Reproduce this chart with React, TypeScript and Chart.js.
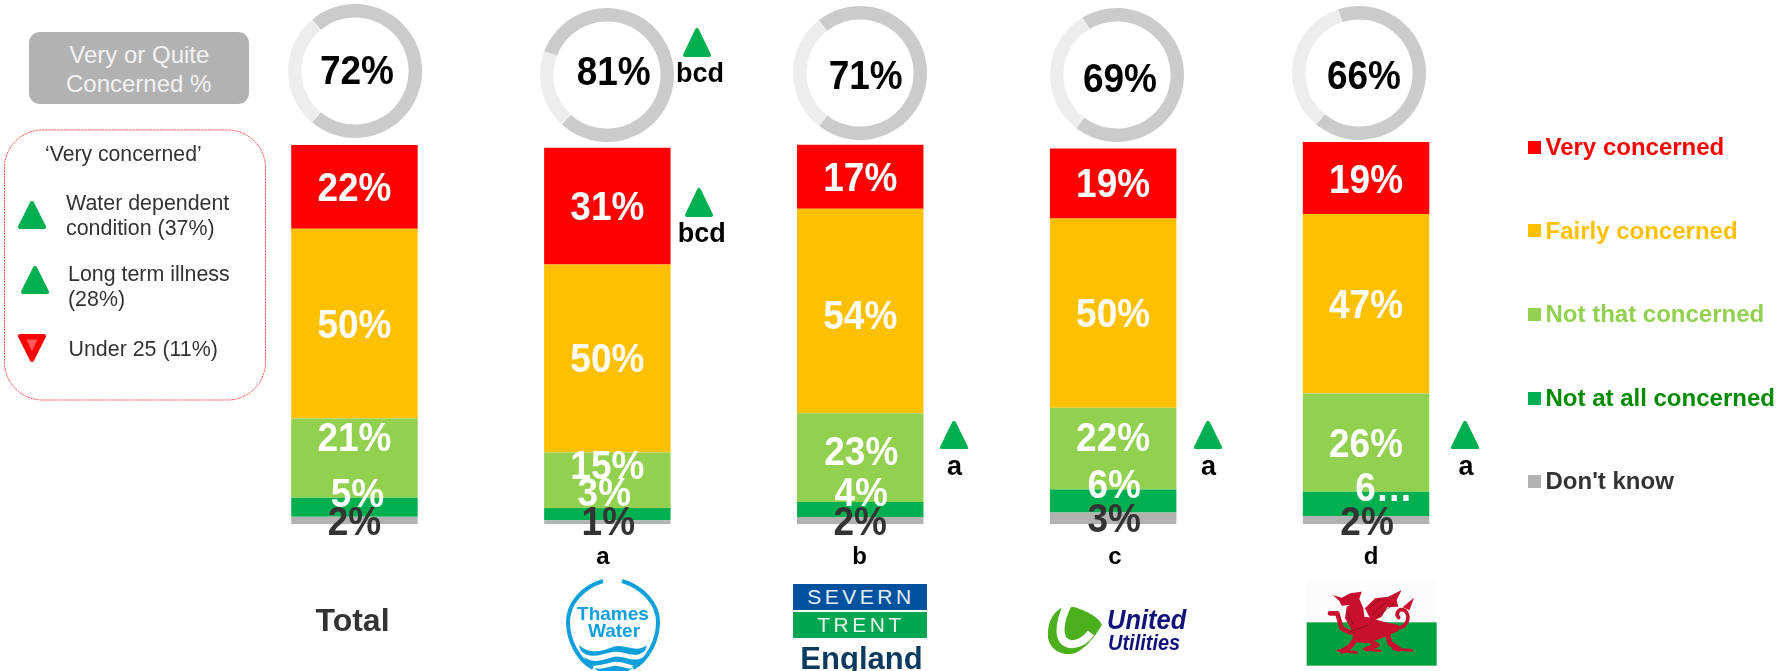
import React, { useEffect, useRef } from "react";
import { Chart, registerables } from "chart.js";

Chart.register(...registerables);

// ---------- data ----------
const categories = ["Total", "Thames Water", "Severn Trent England", "United Utilities", "Wales"];
const veryConcerned = [22.1, 30.8, 16.9, 18.5, 19.0];
const fairlyConcerned = [50.0, 49.6, 53.9, 49.9, 47.3];
const notThatConcerned = [20.9, 14.6, 23.4, 21.5, 25.9];
const notAtAllConcerned = [5.0, 3.2, 4.0, 6.1, 6.4];
const dontKnow = [2.0, 1.1, 1.9, 3.1, 2.2];
const veryOrQuite = [72, 81, 71, 69, 66];
const letters = ["", "a", "b", "c", "d"];

// ---------- styling ----------
const FONT = '"Liberation Sans", Arial, sans-serif';
const RED = "#FF0000";
const AMBER = "#FFC000";
const LIME = "#92D050";
const GREEN = "#00B050";
const GREY = "#B2B2B2";
const TEXT = "#333333";

const legendRows = [
  { name: "Very concerned", swatch: RED, text: RED },
  { name: "Fairly concerned", swatch: AMBER, text: AMBER },
  { name: "Not that concerned", swatch: LIME, text: LIME },
  { name: "Not at all concerned", swatch: GREEN, text: "#008A00" },
  { name: "Don't know", swatch: GREY, text: TEXT },
];

// label nudges from the segment centre (px), one row per series
const nudges: Record<string, [number, number][]> = {
  "Very concerned": [[0, 2], [0, 1.5], [0, 2.5], [0, 1.5], [0, 2.5]],
  "Fairly concerned": [[0, 2.5], [0, 1.5], [0, 6.5], [0, 2], [0, 2]],
  "Not that concerned": [[0, -19], [0, -13], [1, -5], [0, -10], [0, 2]],
  "Not at all concerned": [[3, -12], [-3, -20], [1, -16], [1, -15], [18, -15]],
  "Don't know": [[0, 2], [1, 1], [0, 2], [1, 2], [1, 3]],
};
const labelText: Record<string, string> = { "Not at all concerned|4": "6…" };

const ringGeometry = [
  { cx: 355, cy: 71, rotation: -39.6, tx: 357, ty: 70.5 },
  { cx: 607, cy: 75, rotation: -69.3, tx: 613.7, ty: 72 },
  { cx: 860, cy: 73, rotation: -38, tx: 865.7, ty: 75.5 },
  { cx: 1117, cy: 75, rotation: -31, tx: 1120, ty: 79 },
  { cx: 1359.4, cy: 73, rotation: -18, tx: 1364, ty: 75.5 },
];

const letterPos = [
  null,
  { x: 603, y: 556 },
  { x: 859.5, y: 556 },
  { x: 1115, y: 556 },
  { x: 1371, y: 556 },
];

const LABEL_STRETCH = 1.08;

const barLabels = {
  id: "barLabels",
  afterDatasetsDraw(chart: any) {
    const ctx = chart.ctx;
    ctx.font = `bold 37px ${FONT}`;
    ctx.textAlign = "center";
    ctx.textBaseline = "middle";
    for (let d = chart.data.datasets.length - 1; d >= 0; d--) {
      const ds = chart.data.datasets[d];
      const meta = chart.getDatasetMeta(d);
      ctx.fillStyle = ds.label === "Don't know" ? TEXT : "#FFFFFF";
      meta.data.forEach((el: any, i: number) => {
        const [dx, dy] = nudges[ds.label][i];
        const text = labelText[`${ds.label}|${i}`] ?? `${Math.round(ds.data[i])}%`;
        ctx.save();
        ctx.translate(el.x + dx, (el.y + el.base) / 2 + dy + 1);
        ctx.scale(1, LABEL_STRETCH);
        ctx.fillText(text, 0, 0);
        ctx.restore();
      });
    }
  },
};

function T(props: {
  x: number;
  y: number;
  size: number;
  children: React.ReactNode;
  bold?: boolean;
  italic?: boolean;
  color?: string;
  align?: "left" | "center";
  spacing?: number;
  stretch?: number;
}) {
  const { x, y, size, children, bold, italic, color = "#000", align = "center", spacing, stretch = 1 } = props;
  return (
    <div
      style={{
        position: "absolute",
        left: x,
        top: y,
        transform: `translate(${align === "center" ? "-50%" : "0"}, -50%) scaleY(${stretch})`,
        fontFamily: FONT,
        fontSize: size,
        fontWeight: bold ? 700 : 400,
        fontStyle: italic ? "italic" : "normal",
        color,
        lineHeight: 1.1,
        whiteSpace: "nowrap",
        letterSpacing: spacing,
      }}
    >
      {children}
    </div>
  );
}

function Tri({ x, y, w, h, fill = GREEN, down }: { x: number; y: number; w: number; h: number; fill?: string; down?: boolean }) {
  const r = 2;
  const pts = down
    ? `${r},${r} ${w - r},${r} ${w / 2},${h - r}`
    : `${w / 2},${r} ${w - r},${h - r} ${r},${h - r}`;
  return (
    <svg width={w} height={h} style={{ position: "absolute", left: x, top: y }}>
      <polygon points={pts} fill={fill} stroke={fill} strokeWidth={4} strokeLinejoin="round" />
      {down && <polygon points={`${w * 0.3},${h * 0.2} ${w * 0.7},${h * 0.2} ${w / 2},${h * 0.62}`} fill="#FF5A5A" />}
    </svg>
  );
}

function Ring({ value, rotation }: { value: number; rotation: number }) {
  const ref = useRef<HTMLCanvasElement>(null);
  useEffect(() => {
    const chart = new Chart(ref.current!, {
      type: "doughnut",
      data: {
        labels: ["Very or Quite Concerned", "Other"],
        datasets: [{ data: [value, 100 - value], backgroundColor: ["#CBCBCB", "#EDEDED"], borderWidth: 0 }],
      },
      options: {
        responsive: false,
        animation: false,
        rotation,
        cutout: "80%",
        plugins: { legend: { display: false }, tooltip: { enabled: false } },
      },
    });
    return () => chart.destroy();
  }, [value, rotation]);
  return <canvas ref={ref} width={134} height={134} style={{ display: "block" }} />;
}

function ThamesLogo() {
  const c = "#0E9FDC";
  return (
    <>
      <svg width={130} height={101} viewBox="540 570 130 101" style={{ position: "absolute", left: 540, top: 570 }}>
        <path d="M603,581 C583,587 568,603 568,622 C568,640 578,660 593,668" fill="none" stroke={c} strokeWidth={4} />
        <path d="M622,581 C642,587 658,603 658,622 C658,640 648,660 633,668" fill="none" stroke={c} strokeWidth={4} />
        <path d="M579,645 C590,655 602,651 613,647 C624,643 636,654 647,645 L645,651 C634,660 624,650 613,652 C602,654 590,660 581,651 Z" fill={c} />
        <path d="M584,657 C593,664 604,660 613,657 C622,654 634,664 643,657 L640,664 C632,668 622,660 613,662 C604,664 594,668 587,664 Z" fill={c} />
        <path d="M594,668 C602,670 608,667 613,666 C620,665 626,670 633,668 L628,671 L598,671 Z" fill={c} />
      </svg>
      <T x={613} y={613.5} size={19} bold color={c}>Thames</T>
      <T x={614} y={630.5} size={19} bold color={c}>Water</T>
    </>
  );
}

function SevernLogo() {
  return (
    <>
      <div style={{ position: "absolute", left: 793, top: 584, width: 134, height: 26, background: "#00529F" }} />
      <div style={{ position: "absolute", left: 793, top: 612, width: 134, height: 26, background: "#00A651" }} />
      <T x={861} y={597} size={21} color="#E4EEF6" spacing={3.5}>SEVERN</T>
      <T x={861} y={625} size={21} color="#E4F4EA" spacing={3.5}>TRENT</T>
      <T x={861.5} y={659} size={31} bold color="#0B3A5E">England</T>
    </>
  );
}

function UnitedLogo() {
  return (
    <>
      <svg width={70} height={60} viewBox="1040 600 70 60" style={{ position: "absolute", left: 1040, top: 600 }}>
        <path d="M1063,607 C1051,613 1047,625 1048,638 C1050,650 1062,655 1071,654 C1084,652 1095,636 1102,625 C1098,616 1086,611 1074,607 Z" fill="#4CAF1E" />
        <path d="M1069,602 C1057,625 1058,642 1070,644 C1078,645 1086,640 1091,633" fill="none" stroke="#fff" strokeWidth={8} />
      </svg>
      <T x={1107} y={619} size={25.5} bold italic align="left" color="#12127A" stretch={1.1}>United</T>
      <T x={1108} y={642} size={20} bold italic align="left" color="#12127A" stretch={1.1}>Utilities</T>
    </>
  );
}

function WalesFlag() {
  const dragon = "#C8102E";
  return (
    <svg width={145} height={96} viewBox="0 0 435 288" style={{ position: "absolute", left: 1300, top: 575 }}>
      <rect x={20} y={12} width={390} height={130} fill="#FCFCFC" />
      <rect x={20} y={142} width={390} height={130} fill="#00A040" />
      <polygon points="98,60 125,68 150,55 185,50 178,72 190,100 195,140 215,155 155,165 135,130 140,95 150,90 125,92 118,78" fill={dragon} />
      <polygon points="150,135 200,125 250,140 295,150 295,168 245,190 200,205 160,200" fill={dragon} />
      <polygon points="195,100 225,70 265,65 305,45 290,75 295,95 262,97 245,125 215,140" fill={dragon} />
      <polygon points="308,97 342,68 328,106" fill={dragon} />
      <g fill="none" stroke={dragon} strokeLinecap="round" strokeLinejoin="round">
        <path d="M90,115 L112,115 L125,160 L150,172" strokeWidth={14} />
        <path d="M280,158 C320,165 335,125 315,107 C297,97 285,115 296,128" strokeWidth={11} />
        <path d="M168,190 L150,215 L128,228" strokeWidth={16} />
        <path d="M205,195 L232,210 L200,222" strokeWidth={14} />
        <path d="M262,175 L270,205 L296,222" strokeWidth={16} />
        <path d="M115,227 L170,232" strokeWidth={8} />
        <path d="M192,222 L240,228" strokeWidth={8} />
        <path d="M280,222 L335,226" strokeWidth={8} />
      </g>
      <g fill="none" stroke="#4A1010" strokeWidth={1.5}>
        <path d="M205,100 L240,72 M215,120 L262,78 M228,128 L285,85" />
        <path d="M150,170 L205,150 M140,110 L160,150" />
      </g>
    </svg>
  );
}

export default function App() {
  const ref = useRef<HTMLCanvasElement>(null);
  useEffect(() => {
    const chart = new Chart(ref.current!, {
      type: "bar",
      data: {
        labels: categories,
        datasets: [
          { label: "Don't know", data: dontKnow, backgroundColor: GREY },
          { label: "Not at all concerned", data: notAtAllConcerned, backgroundColor: GREEN },
          { label: "Not that concerned", data: notThatConcerned, backgroundColor: LIME },
          { label: "Fairly concerned", data: fairlyConcerned, backgroundColor: AMBER },
          { label: "Very concerned", data: veryConcerned, backgroundColor: RED },
        ],
      },
      options: {
        responsive: false,
        animation: false,
        layout: { padding: { left: 228, right: 297.5, top: 107.1, bottom: 146.7 } },
        datasets: { bar: { barPercentage: 0.5, categoryPercentage: 1 } },
        scales: {
          x: { stacked: true, display: false },
          y: { stacked: true, display: false, min: 0, max: 110 },
        },
        plugins: { legend: { display: false }, tooltip: { enabled: false } },
      },
      plugins: [barLabels],
    });
    return () => chart.destroy();
  }, []);

  return (
    <div style={{ position: "fixed", left: 0, top: 0, width: 1790, height: 671, overflow: "hidden", background: "#fff" }}>
      <canvas ref={ref} width={1790} height={671} style={{ position: "absolute", left: 0, top: 0 }} />

      {ringGeometry.map((g, i) => (
        <div key={i} style={{ position: "absolute", left: g.cx - 67, top: g.cy - 67 }}>
          <Ring value={veryOrQuite[i]} rotation={g.rotation} />
        </div>
      ))}
      {ringGeometry.map((g, i) => (
        <T key={i} x={g.tx} y={g.ty} size={37} bold stretch={1.08}>{`${veryOrQuite[i]}%`}</T>
      ))}

      {/* left panel */}
      <div style={{ position: "absolute", left: 29, top: 31.7, width: 220, height: 72.6, background: GREY, borderRadius: 11 }} />
      <T x={139.3} y={54.5} size={24} color="#F2F2F2">Very or Quite</T>
      <T x={138.7} y={83.5} size={24} color="#F2F2F2">Concerned %</T>

      <svg width={270} height={280} style={{ position: "absolute", left: 0, top: 125 }}>
        <rect x={4.5} y={5} width={261} height={270} rx={38} fill="none" stroke="#FF2020" strokeOpacity={0.85} strokeWidth={1} strokeDasharray="2 1" />
      </svg>
      <T x={45} y={154} size={21.2} align="left" color={TEXT}>‘Very concerned’</T>
      <Tri x={18} y={201} w={28} h={28} />
      <T x={66} y={204} size={21.4} align="left" color={TEXT}>Water dependent</T>
      <T x={66} y={229} size={21.4} align="left" color={TEXT}>condition (37%)</T>
      <Tri x={20.5} y={266} w={28} h={28} />
      <T x={68} y={275} size={21.4} align="left" color={TEXT}>Long term illness</T>
      <T x={68} y={300} size={21.4} align="left" color={TEXT}>(28%)</T>
      <Tri x={18} y={334} w={28} h={28} fill="#FF0000" down />
      <T x={68.5} y={350} size={21.4} align="left" color={TEXT}>Under 25 (11%)</T>

      {/* significance markers */}
      <Tri x={683} y={28} w={28} h={29} />
      <T x={700} y={74} size={27} bold>bcd</T>
      <Tri x={685} y={188} w={28} h={29} />
      <T x={701.7} y={234} size={27} bold>bcd</T>
      <Tri x={940} y={420.5} w={28} h={28.5} />
      <T x={954.4} y={467} size={27} bold>a</T>
      <Tri x={1194} y={420.5} w={28} h={28.5} />
      <T x={1208.6} y={467} size={27} bold>a</T>
      <Tri x={1451} y={420.5} w={28} h={28.5} />
      <T x={1466} y={467} size={27} bold>a</T>

      {letters.map((l, i) =>
        l ? <T key={i} x={letterPos[i]!.x} y={letterPos[i]!.y} size={24} bold>{l}</T> : null
      )}

      {/* category identifiers */}
      <T x={352.5} y={620.5} size={32} bold color={TEXT}>{categories[0]}</T>
      <ThamesLogo />
      <SevernLogo />
      <UnitedLogo />
      <WalesFlag />

      {/* legend */}
      {legendRows.map((r, i) => (
        <React.Fragment key={r.name}>
          <div style={{ position: "absolute", left: 1527.5, top: 147.3 + i * 83.6 - 6.5, width: 13, height: 13, background: r.swatch }} />
          <T x={1545.5} y={147 + i * 83.6} size={24} bold align="left" color={r.text}>{r.name}</T>
        </React.Fragment>
      ))}
    </div>
  );
}
